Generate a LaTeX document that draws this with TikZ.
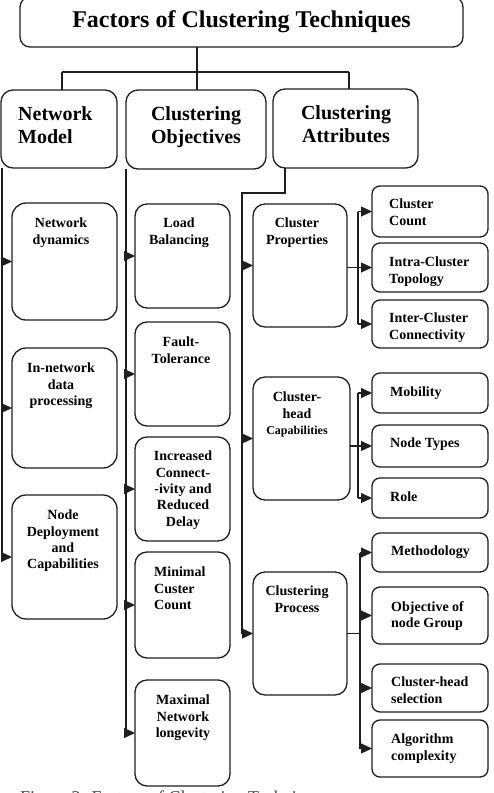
\documentclass[tikz,border=0pt]{standalone}
\usepackage{fontspec}
\setmainfont{Liberation Serif}
\usetikzlibrary{arrows.meta}
\newcommand\mkbox[6][12pt]{\node[box=#1, anchor=north west, minimum width={#5pt-#3pt}, minimum height={#6pt-#4pt}] (#2) at (#3,#4) {};}
\begin{document}
\begin{tikzpicture}[x=1pt,y=-1pt,
  box/.style={draw=black!88, line width=1.3pt, rounded corners=#1, inner sep=0pt, outer sep=0pt},
  box/.default=12pt,
  ttl/.style={font=\bfseries\fontsize{24}{28}\selectfont, inner sep=0pt, anchor=base},
  lone/.style={font=\bfseries\fontsize{20}{23.5}\selectfont, inner sep=0pt, align=center, anchor=north},
  ltwo/.style={font=\bfseries\fontsize{14}{16.3}\selectfont, inner sep=0pt, align=center, anchor=north},
  lleft/.style={font=\bfseries\fontsize{14}{16.3}\selectfont, inner sep=0pt, align=left, anchor=north west},
  ln/.style={draw=black!88, line width=1.1pt},
  arr/.style={ln, -{Triangle[length=11pt,width=10pt]}},
  capt/.style={font=\fontsize{18}{20}\selectfont, text=black!75, inner sep=0pt, anchor=base west}]
\useasboundingbox (0,0) rectangle (493,793);

% title
\mkbox[10pt]{top}{20}{-3}{463}{47}
\node[ttl] (top-t) at (241.5,27) {Factors of Clustering Techniques};

% level 1
\mkbox{nm}{1}{90}{117}{168}
\mkbox{co}{126}{90}{266}{169}
\mkbox{ca}{273}{89}{418}{168}
\node[lone, align=left, anchor=north west] (nm-t) at (18,106.3) {Network\\Model};
\node[lone] (co-t) at (196,106.3) {Clustering\\Objectives};
\node[lone] (ca-t) at (346,105.3) {Clustering\\Attributes};

\coordinate (j0) at (197,72);
\draw[ln] (top.south -| j0) -- (j0);
\draw[ln] (62,72) coordinate (jl) -- (349,72) coordinate (jr);
\draw[ln] (jl) -- (jl |- nm.north);
\draw[ln] (j0) -- (j0 |- co.north);
\draw[ln] (jr) -- (jr |- ca.north);

% column 1
\mkbox[14pt]{nd}{12}{203}{117}{320}
\mkbox[14pt]{inp}{12}{348}{117}{468}
\mkbox[14pt]{ndep}{12}{495}{117}{619}
\node[ltwo] (nd-t) at (61,218) {Network\\dynamics};
\node[ltwo] (inp-t) at (61,363) {In-network\\data\\processing};
\node[ltwo] (ndep-t) at (63,510) {Node\\Deployment\\and\\Capabilities};
\coordinate (s1) at (2,168);
\draw[ln] (s1) -- (s1 |- ndep.west);
\foreach \b in {nd,inp,ndep} \draw[arr] (s1 |- \b.west) -- (\b.west);

% column 2
\mkbox{lb}{135}{204}{230}{308}
\mkbox{ft}{135}{322}{230}{426}
\mkbox{ic}{135}{437}{230}{541}
\mkbox{mc}{135}{552}{230}{658}
\mkbox{mn}{135}{680}{230}{786}
\node[ltwo] (lb-t) at (179,218) {Load\\Balancing};
\node[ltwo] (ft-t) at (181,337) {Fault-\\Tolerance};
\node[ltwo] (ic-t) at (183,451) {Increased\\Connect-\\-ivity and\\Reduced\\Delay};
\node[lleft] (mc-t) at (154,567) {Minimal\\Custer\\Count};
\node[ltwo] (mn-t) at (183,695) {Maximal\\Network\\longevity};
\coordinate (s2) at (126,169);
\draw[ln] (s2) -- (s2 |- mn.west);
\foreach \b in {lb,ft,ic,mc,mn} \draw[arr] (s2 |- \b.west) -- (\b.west);

% column 3
\mkbox{cprop}{253}{204}{347}{327}
\mkbox{chc}{253}{377}{350}{500}
\mkbox{cp}{253}{572}{347}{695}
\node[ltwo] (cprop-t) at (297,218) {Cluster\\Properties};
\node[ltwo] (chc-t) at (297,392) {Cluster-\\head\\{\fontsize{12}{14}\selectfont Capabilities}};
\node[ltwo] (cp-t) at (297,586) {Clustering\\Process};
\coordinate (s3) at (242,193);
\draw[ln] (ca.south -| 285,0) -- (285,193) -- (s3) -- (s3 |- cp.west);
\foreach \b in {cprop,chc,cp} \draw[arr] (s3 |- \b.west) -- (\b.west);

% column 4
\mkbox[8pt]{cc}{372}{186}{488}{237}
\mkbox[8pt]{ict}{372}{243}{488}{292}
\mkbox[8pt]{icn}{372}{300}{488}{348}
\mkbox[8pt]{mob}{372}{373}{488}{413}
\mkbox[8pt]{nty}{372}{425}{488}{467}
\mkbox[8pt]{role}{372}{478}{488}{518}
\mkbox[8pt]{meth}{372}{533}{488}{572}
\mkbox[8pt]{obj}{372}{587}{488}{644}
\mkbox[8pt]{chs}{372}{664}{488}{712}
\mkbox[8pt]{alg}{372}{720}{488}{777}
\node[lleft] (cc-t) at (389,199) {Cluster\\Count};
\node[lleft] (ict-t) at (389,257) {Intra-Cluster\\Topology};
\node[lleft] (icn-t) at (389,313) {Inter-Cluster\\Connectivity};
\node[lleft] (mob-t) at (390,387) {Mobility};
\node[lleft] (nty-t) at (390,438) {Node Types};
\node[lleft] (role-t) at (390,492) {Role};
\node[lleft] (meth-t) at (391,546) {Methodology};
\node[lleft] (obj-t) at (391,601) {Objective of\\node Group};
\node[lleft] (chs-t) at (391,677) {Cluster-head\\selection};
\node[lleft] (alg-t) at (391,734) {Algorithm\\complexity};

\coordinate (s4a) at (358,0);
\draw[ln] (cprop.east |- ict.west) -- (s4a |- ict.west);
\draw[ln] (s4a |- cc.west) -- (s4a |- icn.west);
\foreach \b in {cc,ict,icn} \draw[arr] (s4a |- \b.west) -- (\b.west);

\coordinate (s4b) at (358,0);
\draw[ln] (chc.east |- nty.west) -- (s4b |- nty.west);
\draw[ln] (s4b |- mob.west) -- (s4b |- role.west);
\foreach \b in {mob,nty,role} \draw[arr] (s4b |- \b.west) -- (\b.west);

\coordinate (s4c) at (360,0);
\draw[ln] (cp.east) -- (s4c |- cp.east);
\draw[ln] (s4c |- meth.west) -- (s4c |- alg.west);
\foreach \b in {meth,obj,chs,alg} \draw[arr] (s4c |- \b.west) -- (\b.west);

% caption (cut off by the page edge, as in the reference)
\node[capt] (cap) at (20,803.5) {Figure 2: Factors of Clustering Techniques};
\end{tikzpicture}
\end{document}
